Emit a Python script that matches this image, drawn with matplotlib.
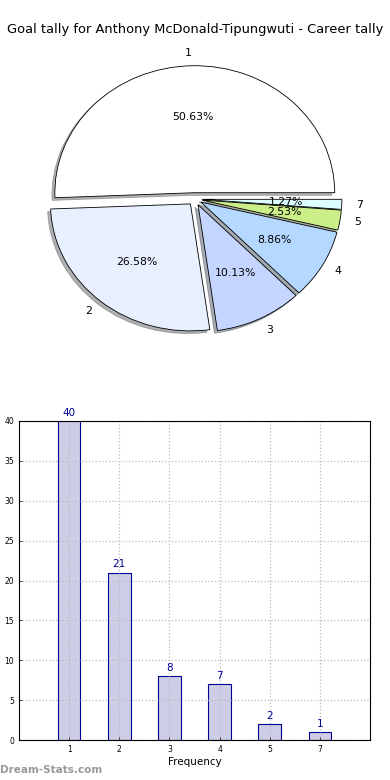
import matplotlib
matplotlib.use('Agg')
import matplotlib.pyplot as plt

# 数据
goals = ['1', '2', '3', '4', '5', '7']
counts = [40, 21, 8, 7, 2, 1]
pie_colors = ['#ffffff', '#e8f0ff', '#c4d6ff', '#b4d8ff', '#ccee88', '#ddffff']
title = 'Goal tally for Anthony McDonald-Tipungwuti - Career tally'

fig = plt.figure(figsize=(3.9, 7.8), dpi=100)
fig.text(0.5, 1 - 30 / 780, title, ha='center', va='center', fontsize=9.4)

# 饼图
ax1 = fig.add_axes([0.0513, 0.5413, 0.897, 0.407])
wedges, texts, autotexts = ax1.pie(
    counts, labels=goals, colors=pie_colors, explode=[0.05] * len(counts),
    autopct='%1.2f%%', shadow={'ox': -0.015, 'oy': -0.015, 'shade': 0.6},
    startangle=0,
    wedgeprops={'edgecolor': 'black', 'linewidth': 0.6},
    textprops={'fontsize': 7.8})
ax1.set_aspect('auto')
ax1.set_xlim(-1.25, 1.25)
ax1.set_ylim(-1.25, 1.25)

# 柱状图
ax2 = fig.add_axes([19 / 390, 1 - 740 / 780, 351 / 390, 319 / 780])
xpos = list(range(1, len(goals) + 1))
ax2.bar(xpos, counts, width=0.45, color='#cdcde6', edgecolor='#000099', linewidth=0.8, zorder=1)
for x, c in zip(xpos, counts):
    ax2.text(x, c + 0.4, str(c), ha='center', va='bottom', fontsize=7.5, color='#000099')
ax2.set_xlim(0, 7)
ax2.set_ylim(0, 40)
ax2.set_xticks(xpos)
ax2.set_xticklabels(goals)
ax2.set_yticks(range(0, 41, 5))
ax2.tick_params(labelsize=5.5, length=2, width=0.5, direction='in')
ax2.grid(True, linestyle=':', color='#bbbbbb', linewidth=0.9, zorder=3)
ax2.set_axisbelow(False)
ax2.set_xlabel('Frequency', fontsize=7.5, labelpad=2)
for s in ax2.spines.values():
    s.set_linewidth(0.8)
    s.set_zorder(4)

fig.text(0.0, 1 - 770 / 780, 'Dream-Stats.com', fontsize=7.5, color='#999999',
         fontweight='bold', ha='left', va='center')

plt.savefig('out.png', dpi=100)
plt.close()
